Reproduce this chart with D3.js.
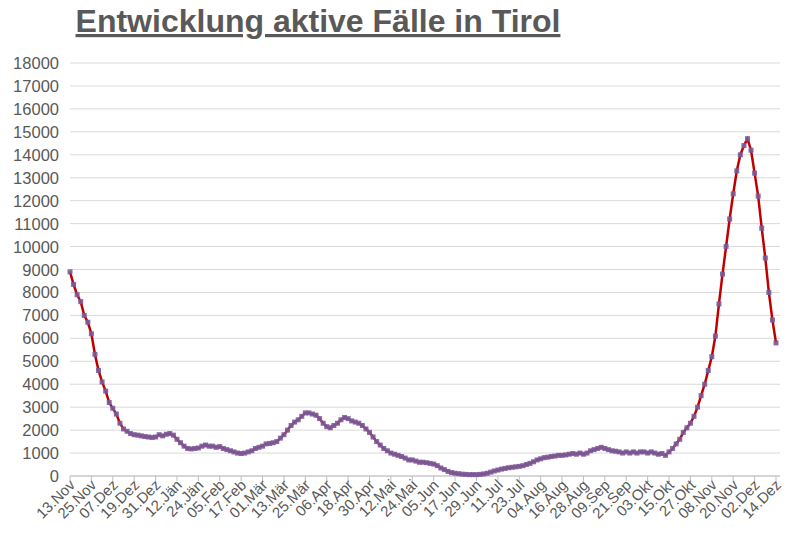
<!DOCTYPE html>
<html><head><meta charset="utf-8">
<script src="https://cdn.jsdelivr.net/npm/d3@7"></script>
<style>body{margin:0;background:#fff}svg{font-family:"Liberation Sans",Arial,sans-serif}</style>
</head><body><svg id="c" width="788" height="542"></svg>
<script>
const tickLabels=["13.Nov","25.Nov","07.Dez","19.Dez","31.Dez","12.Jän","24.Jän","05.Feb","17.Feb","01.Mär","13.Mär","25.Mär","06.Apr","18.Apr","30.Apr","12.Mai","24.Mai","05.Jun","17.Jun","29.Jun","11.Jul","23.Jul","04.Aug","16.Aug","28.Aug","09.Sep","21.Sep","03.Okt","15.Okt","27.Okt","08.Nov","20.Nov","02.Dez","14.Dez"];
const yTicks=d3.range(0,18001,1000);
// values every 2 days starting 13.Nov (day 0)
const values=[8900,8350,7900,7600,7000,6700,6200,5300,4600,4100,3700,3200,2950,2700,2300,2050,1950,1850,1800,1780,1750,1720,1700,1680,1700,1800,1750,1820,1850,1780,1600,1450,1300,1200,1180,1200,1220,1300,1350,1300,1300,1250,1280,1200,1150,1100,1050,1000,980,1000,1050,1100,1200,1250,1300,1400,1420,1450,1500,1650,1800,2000,2200,2350,2450,2600,2750,2750,2700,2650,2500,2300,2150,2100,2200,2300,2450,2550,2500,2400,2350,2300,2200,2050,1900,1700,1500,1350,1200,1100,1000,950,900,850,780,700,700,650,600,600,580,550,520,450,350,280,200,150,120,100,80,70,60,60,60,70,90,120,170,220,260,300,330,360,380,400,420,450,500,550,620,700,750,800,820,850,870,900,900,920,950,980,950,1000,950,1000,1100,1150,1200,1250,1200,1150,1100,1080,1050,1000,1050,1000,1050,1000,1050,1050,1000,1050,1000,950,980,900,1050,1200,1400,1600,1900,2100,2300,2600,3000,3500,4000,4600,5200,6100,7500,8800,10000,11200,12300,13300,14000,14400,14700,14200,13200,12200,10800,9500,8000,6800,5800];
const stepDays=2;
const svg=d3.select("#c");
const x=d3.scaleLinear().domain([0,396]).range([70,776]);
const y=d3.scaleLinear().domain([0,18000]).range([476,63]);
svg.append("g").selectAll("line").data(yTicks).join("line")
 .attr("x1",70).attr("x2",780).attr("y1",d=>y(d)).attr("y2",d=>y(d)).attr("stroke","#d9d9d9");
svg.append("g").selectAll("text").data(yTicks).join("text")
 .attr("x",59).attr("y",d=>y(d)+6).attr("text-anchor","end").attr("font-size",16.5).attr("fill","#595959").text(d=>d);
svg.append("line").attr("x1",70).attr("x2",780).attr("y1",476).attr("y2",476).attr("stroke","#bfbfbf");
const ti=tickLabels.map((t,i)=>i*12);
svg.append("g").selectAll("line").data(ti).join("line").attr("x1",d=>x(d)).attr("x2",d=>x(d)).attr("y1",476).attr("y2",481).attr("stroke","#bfbfbf");
svg.append("g").selectAll("text").data(tickLabels).join("text")
 .attr("transform",(d,i)=>`translate(${x(i*12)+6},${486}) rotate(-45)`).attr("text-anchor","end")
 .attr("font-size",15).attr("fill","#595959").text(d=>d);
const pts=values.map((v,i)=>[i*stepDays,v]);
svg.append("path").datum(pts).attr("fill","none").attr("stroke","#c00000").attr("stroke-width",2.5)
 .attr("d",d3.line().x(d=>x(d[0])).y(d=>y(d[1])));
svg.append("g").selectAll("rect").data(pts).join("rect")
 .attr("x",d=>x(d[0])-2.5).attr("y",d=>y(d[1])-2.5).attr("width",5).attr("height",5).attr("fill","#7b5a9a").attr("opacity",0.9);
svg.append("text").attr("x",318).attr("y",32).attr("text-anchor","middle").attr("font-size",32).attr("font-weight","bold")
 .attr("fill","#595959").attr("text-decoration","underline").text("Entwicklung aktive Fälle in Tirol");
</script></body></html>
